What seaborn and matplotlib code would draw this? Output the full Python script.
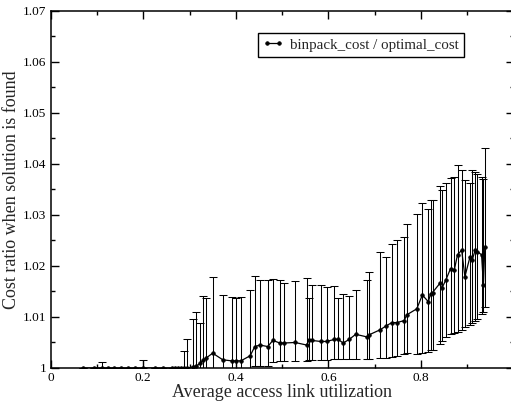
import matplotlib
matplotlib.use("Agg")
import matplotlib.pyplot as plt
import seaborn as sns
import numpy as np
import pandas as pd
from matplotlib.ticker import MultipleLocator, FixedLocator

# ---- data ----
utilization = [0.070, 0.094, 0.110, 0.124, 0.137, 0.152, 0.168, 0.182, 0.200, 0.225,
               0.242, 0.262, 0.269, 0.275, 0.282, 0.287, 0.295, 0.307, 0.315, 0.323,
               0.330, 0.335, 0.350, 0.372, 0.391, 0.400, 0.411, 0.431, 0.441, 0.452,
               0.469, 0.480, 0.495, 0.505, 0.528, 0.553, 0.558, 0.565, 0.583, 0.596,
               0.613, 0.621, 0.632, 0.645, 0.659, 0.683, 0.688, 0.712, 0.724, 0.737,
               0.748, 0.764, 0.769, 0.791, 0.803, 0.816, 0.821, 0.825, 0.841, 0.845,
               0.854, 0.864, 0.872, 0.879, 0.888, 0.895, 0.906, 0.911, 0.917, 0.922,
               0.931, 0.935, 0.938]

ratio_mean = [1.0000, 1.0000, 1.0000, 1.0000, 1.0000, 1.0000, 1.0000, 1.0000, 1.0000, 1.0000,
              1.0000, 1.0000, 1.0000, 1.0000, 1.0000, 1.0000, 1.0000, 1.0002, 1.0004, 1.0009,
              1.0016, 1.0019, 1.0029, 1.0016, 1.0014, 1.0014, 1.0014, 1.0024, 1.0042, 1.0045,
              1.0042, 1.0054, 1.0049, 1.0049, 1.0050, 1.0045, 1.0055, 1.0054, 1.0052, 1.0052,
              1.0056, 1.0056, 1.0049, 1.0056, 1.0066, 1.0061, 1.0065, 1.0075, 1.0082, 1.0089,
              1.0089, 1.0093, 1.0104, 1.0116, 1.0143, 1.0130, 1.0146, 1.0148, 1.0166, 1.0156,
              1.0173, 1.0195, 1.0192, 1.0222, 1.0231, 1.0179, 1.0218, 1.0212, 1.0231, 1.0228,
              1.0222, 1.0163, 1.0237]

ratio_upper = [1.0000, 1.0000, 1.0012, 1.0000, 1.0000, 1.0000, 1.0000, 1.0000, 1.0016, 1.0000,
               1.0000, 1.0000, 1.0000, 1.0000, 1.0000, 1.0034, 1.0057, 1.0097, 1.0109, 1.0089,
               1.0141, 1.0138, 1.0179, 1.0144, 1.0140, 1.0138, 1.0140, 1.0153, 1.0180, 1.0173,
               1.0173, 1.0174, 1.0173, 1.0167, 1.0170, 1.0176, 1.0137, 1.0163, 1.0163, 1.0158,
               1.0161, 1.0137, 1.0145, 1.0141, 1.0152, 1.0173, 1.0189, 1.0228, 1.0217, 1.0244,
               1.0251, 1.0257, 1.0282, 1.0302, 1.0323, 1.0311, 1.0329, 1.0330, 1.0356, 1.0349,
               1.0362, 1.0372, 1.0375, 1.0398, 1.0388, 1.0369, 1.0362, 1.0388, 1.0385, 1.0380,
               1.0375, 1.0370, 1.0432]

ratio_lower = [1.0000, 1.0000, 1.0000, 1.0000, 1.0000, 1.0000, 1.0000, 1.0000, 1.0000, 1.0000,
               1.0000, 1.0000, 1.0000, 1.0000, 1.0000, 0.9950, 0.9950, 0.9950, 0.9950, 0.9950,
               0.9950, 0.9950, 0.9950, 0.9950, 0.9950, 0.9950, 0.9950, 0.9950, 1.0004, 1.0004,
               1.0004, 1.0012, 1.0013, 1.0013, 1.0014, 1.0014, 1.0015, 1.0015, 1.0016, 1.0016,
               1.0017, 1.0017, 1.0017, 1.0017, 1.0017, 1.0017, 1.0018, 1.0019, 1.0020, 1.0022,
               1.0024, 1.0027, 1.0029, 1.0027, 1.0029, 1.0032, 1.0035, 1.0035, 1.0048, 1.0052,
               1.0060, 1.0066, 1.0068, 1.0071, 1.0075, 1.0081, 1.0085, 1.0088, 1.0093, 1.0097,
               1.0105, 1.0110, 1.0120]

x_ticks = [0, 0.2, 0.4, 0.6, 0.8, 1.0]
x_tick_labels = ["0", "0.2", "0.4", "0.6", "0.8", ""]
y_ticks = [1.00, 1.01, 1.02, 1.03, 1.04, 1.05, 1.06, 1.07]
y_tick_labels = ["1", "1.01", "1.02", "1.03", "1.04", "1.05", "1.06", "1.07"]
series_label = "binpack_cost / optimal_cost"

df = pd.DataFrame({"util": utilization, "mean": ratio_mean,
                   "upper": ratio_upper, "lower": ratio_lower})

# ---- style ----
sns.set_style("ticks")
plt.rcParams["font.family"] = ["Liberation Serif", "DejaVu Serif"]
plt.rcParams["xtick.direction"] = "in"
plt.rcParams["ytick.direction"] = "in"

fig = plt.figure(figsize=(5.11, 4.05), dpi=100)
ax = fig.add_axes([0.0992, 0.0914, 0.9057, 0.8815])

yerr = np.vstack([df["mean"] - df["lower"], df["upper"] - df["mean"]])
ax.errorbar(df["util"], df["mean"], yerr=yerr, fmt="none", ecolor="black",
            elinewidth=0.75, capsize=3, capthick=0.75, zorder=2)

sns.lineplot(data=df, x="util", y="mean", ax=ax, color="black", marker="o",
             markersize=2.6, markeredgecolor="black", markeredgewidth=0.5,
             linewidth=0.9, label=series_label, zorder=3)

ax.set_xlim(0, 1)
ax.set_ylim(1.0, 1.07)
ax.xaxis.set_major_locator(FixedLocator(x_ticks))
ax.set_xticklabels(x_tick_labels)
ax.yaxis.set_major_locator(FixedLocator(y_ticks))
ax.set_yticklabels(y_tick_labels)
ax.xaxis.set_minor_locator(MultipleLocator(0.1))
ax.yaxis.set_minor_locator(MultipleLocator(0.005))
ax.tick_params(which="both", direction="in", top=True, right=True,
               labelsize=9.5, colors="black", pad=3)
ax.tick_params(which="major", length=6, width=1.0)
ax.tick_params(which="minor", length=3, width=1.0)

for s in ax.spines.values():
    s.set_linewidth(1.1)
    s.set_color("black")
    s.set_visible(True)

ax.set_xlabel("Average access link utilization", fontsize=13, labelpad=0)
ax.set_ylabel("Cost ratio when solution is found", fontsize=13, labelpad=2)

leg = ax.legend(loc="upper right", bbox_to_anchor=(0.893, 0.939), borderaxespad=0,
                numpoints=2, handlelength=1.4, handletextpad=0.4, fontsize=10.8,
                frameon=True, fancybox=False, edgecolor="black", framealpha=1,
                borderpad=0.35)
leg.get_frame().set_linewidth(1.0)

fig.savefig("out.png", dpi=100)
